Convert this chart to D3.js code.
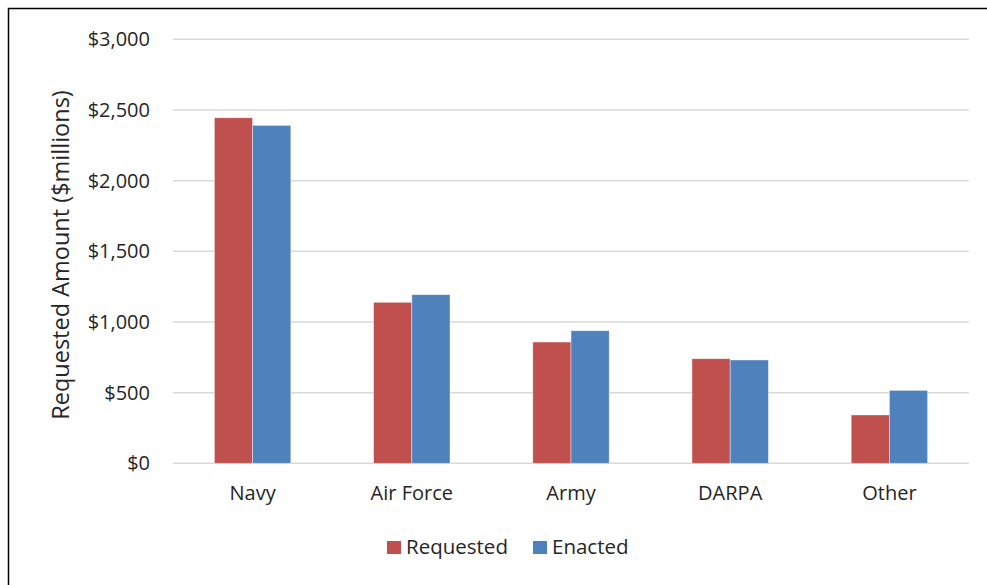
<!DOCTYPE html>
<html>
<head>
<meta charset="utf-8">
<script src="https://cdn.jsdelivr.net/npm/d3@7"></script>
<style>
  body { margin: 0; background: #fff; }
  text { font-family: "Open Sans", sans-serif; fill: #262626; }
</style>
</head>
<body>
<div id="chart"></div>
<script>
// data ($ millions)
const categories = ["Navy", "Air Force", "Army", "DARPA", "Other"];
const requested = [2445, 1139, 858, 740, 342];
const enacted = [2391, 1193, 938, 731, 516];
const seriesNames = ["Requested", "Enacted"];
const yTicks = [0, 500, 1000, 1500, 2000, 2500, 3000];

var width = 987, height = 585;
var plotLeft = 173, plotRight = 969, plotTop = 39.3, plotBottom = 463.3;
var colors = ["#C0504D", "#4F81BD"];
var font = "'Open Sans', sans-serif";

const svg = d3.select("#chart").append("svg")
    .attr("width", width)
    .attr("height", height);

// outer frame
svg.append("rect").attr("x", 8.5).attr("y", 8.5).attr("width", width + 10).attr("height", height + 10)
    .attr("fill", "none").attr("stroke", "#000").attr("stroke-width", 1.5);

var xScale = d3.scaleBand().domain(categories).range([plotLeft, plotRight]).paddingInner(0.52).paddingOuter(0.26);
var xSub = d3.scaleBand().domain(seriesNames).range([0, xScale.bandwidth()]);
var yScale = d3.scaleLinear().domain([0, 3000]).range([plotBottom, plotTop]);

// gridlines
svg.append("g").selectAll("line").data(yTicks).enter().append("line")
    .attr("x1", plotLeft).attr("x2", plotRight)
    .attr("y1", d => yScale(d)).attr("y2", d => yScale(d))
    .attr("stroke", "#D9D9D9").attr("stroke-width", 1.5);

// y axis labels
var yAxis = svg.append("g").attr("transform", "translate(" + (plotLeft - 10) + ",0)")
    .call(d3.axisLeft(yScale).tickValues(yTicks).tickSize(0).tickPadding(13)
        .tickFormat(d => "$" + d3.format(",")(d)));
yAxis.select(".domain").remove();
yAxis.selectAll("text").style("font-size", "20px").style("fill", "#262626").style("font-family", font);

// bars
var rows = categories.map((c, i) => ({cat: c, vals: [requested[i], enacted[i]]}));
var groups = svg.append("g").selectAll("g").data(rows).enter().append("g")
    .attr("transform", d => "translate(" + xScale(d.cat) + ",0)");
groups.selectAll("rect").data(d => d.vals.map((v, j) => ({name: seriesNames[j], v: v, j: j}))).enter().append("rect")
    .attr("x", d => xSub(d.name))
    .attr("width", xSub.bandwidth())
    .attr("y", d => yScale(d.v))
    .attr("height", d => yScale(0) - yScale(d.v))
    .attr("fill", d => colors[d.j])
    .attr("stroke", "#fff").attr("stroke-opacity", 0.5).attr("stroke-width", 0.8);

// x axis labels
var xAxis = svg.append("g").attr("transform", "translate(0," + plotBottom + ")")
    .call(d3.axisBottom(xScale).tickSize(0).tickPadding(23));
xAxis.select(".domain").remove();
xAxis.selectAll("text").style("font-size", "20px").style("fill", "#262626").style("font-family", font);

// y title
svg.append("text")
    .attr("transform", "translate(69,255) rotate(-90)")
    .attr("text-anchor", "middle")
    .style("font-size", "23.5px")
    .text("Requested Amount ($millions)");

// legend
var legend = svg.append("g").attr("transform", "translate(387,541)");
var lx = [0, 146];
seriesNames.forEach(function(n, i) {
    legend.append("rect").attr("x", lx[i]).attr("y", 0).attr("width", 14).attr("height", 13).attr("fill", colors[i]);
    legend.append("text").attr("x", lx[i] + 19).attr("y", 13).style("font-size", "20.5px").text(n);
});
</script>
</body>
</html>
